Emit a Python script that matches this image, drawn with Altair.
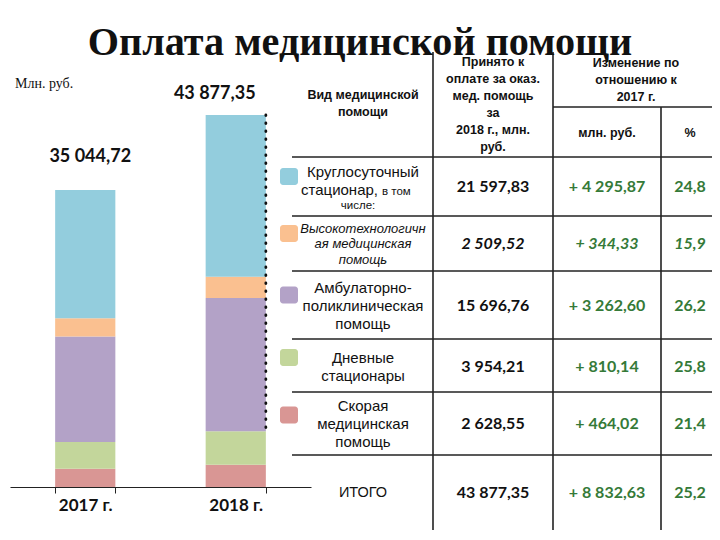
import altair as alt
import pandas as pd

# ---------------- data ----------------
title_text = "Оплата медицинской помощи"
unit_text = "Млн. руб."
years = ["2017 г.", "2018 г."]
segments = ["Скорая медицинская помощь", "Дневные стационары",
            "Амбулаторно-поликлиническая помощь",
            "Высокотехнологичная медицинская помощь",
            "Круглосуточный стационар (без ВМП)"]
seg_2017 = [2164.53, 3144.07, 12434.16, 2165.19, 15136.77]
seg_2018 = [2628.55, 3954.21, 15696.76, 2509.52, 19088.31]
totals = [35044.72, 43877.35]
total_labels = ["35 044,72", "43 877,35"]

header_kind = "Вид медицинской\nпомощи"
header_paid = "Принято к\nоплате за оказ.\nмед. помощь\nза\n2018 г., млн.\nруб."
header_change = "Изменение по\nотношению к\n2017 г."
sub_headers = ["млн. руб.", "%"]
row_labels = ["Круглосуточный\nстационар, в том\nчисле:",
              "Высокотехнологичн\nая медицинская\nпомощь",
              "Амбулаторно-\nполиклиническая\nпомощь",
              "Дневные\nстационары",
              "Скорая\nмедицинская\nпомощь",
              "ИТОГО"]
paid_2018 = ["21 597,83", "2 509,52", "15 696,76", "3 954,21", "2 628,55", "43 877,35"]
change_abs = ["+ 4 295,87", "+ 344,33", "+ 3 262,60", "+ 810,14", "+ 464,02", "+ 8 832,63"]
change_pct = ["24,8", "15,9", "26,2", "25,8", "21,4", "25,2"]

# ---------------- styles / layout ----------------
seg_colors = ["#D99694", "#C3D69B", "#B3A2C7", "#FAC090", "#93CDDD"]
swatch_colors = ["#93CDDD", "#FAC090", "#B3A2C7", "#C3D69B", "#D99694"]
GREEN = "#357A38"
INK = "#111111"
SERIF = "Liberation Serif"
SANS = "Liberation Sans"
W, VIEW_H, PAD_B = 704, 479, 43

# table layout (page pixels)
col_centers = [363, 493, 607, 690]
row_centers = [187, 244, 306, 367, 424, 493]
h_lines = [(553, 725, 107), (292, 725, 157), (292, 725, 216), (292, 725, 271),
           (292, 725, 339), (292, 725, 392), (292, 725, 455)]
v_lines = [(433, 52, 530), (553, 52, 530), (661, 107, 530)]
swatch_centers = [176.5, 233.5, 295, 357.5, 415]

tx = alt.Scale(domain=[8, 712], range=[0, W], nice=False, zero=False)
ty = alt.Scale(domain=[8, 487], range=[0, VIEW_H], nice=False, zero=False)
xs = alt.Scale(domain=years, range=[2, 303], paddingInner=0.6, paddingOuter=0.3)
ys = alt.Scale(domain=[0, 56500], range=[VIEW_H, 0], nice=False, zero=True)

# ---------------- bar chart ----------------
rows = []
for yi, vals in zip(years, [seg_2017, seg_2018]):
    for i, (s, v) in enumerate(zip(segments, vals)):
        rows.append({"year": yi, "segment": s, "value": v, "order": i})
bars_df = pd.DataFrame(rows)

bars = alt.Chart(bars_df).mark_bar().encode(
    x=alt.X("year:N", scale=xs, title=None,
            axis=alt.Axis(labelAngle=0, tickBand="extent", labelFont="Lato",
                          labelFontSize=17, labelFontWeight="bold", labelColor=INK,
                          domainColor="#222", tickColor="#222", tickSize=6,
                          labelPadding=4, grid=False, domainWidth=1.2)),
    y=alt.Y("value:Q", scale=ys, stack="zero", axis=None),
    color=alt.Color("segment:N", scale=alt.Scale(domain=segments, range=seg_colors), legend=None),
    order=alt.Order("order:Q"),
)

tot_df = pd.DataFrame({"year": years, "total": totals, "label": total_labels})
tot_font = dict(font="Lato", fontWeight="bold", fontSize=18, color=INK, baseline="alphabetic")
tot17 = alt.Chart(tot_df.iloc[[0]]).mark_text(dy=-28, dx=5, **tot_font).encode(
    x=alt.X("year:N", scale=xs, axis=None), y=alt.Y("total:Q", scale=ys, axis=None), text="label:N")
tot18 = alt.Chart(tot_df.iloc[[1]]).mark_text(dy=-16, dx=-21, **tot_font).encode(
    x=alt.X("year:N", scale=xs, axis=None), y=alt.Y("total:Q", scale=ys, axis=None), text="label:N")

brace_df = pd.DataFrame({"year": [years[1]], "top": [totals[1]],
                         "bottom": [seg_2018[0] + seg_2018[1]]})
brace = alt.Chart(brace_df).mark_rule(strokeDash=[0.5, 7.5], strokeWidth=2.8, strokeCap="round",
                                      color=INK).encode(
    x=alt.X("year:N", scale=xs, bandPosition=1, axis=None),
    y=alt.Y("top:Q", scale=ys, axis=None), y2="bottom:Q")


# ---------------- helpers for the table ----------------
def text_layer(df, **mark):
    return alt.Chart(df).mark_text(**mark).encode(
        x=alt.X("x:Q", scale=tx, axis=None),
        y=alt.Y("y:Q", scale=ty, axis=None),
        text="t:N")


def tdf(items):
    return pd.DataFrame(items, columns=["x", "y", "t"])


def first_line(center, text, lh):
    n = text.count("\n") + 1
    return center - (n - 1) / 2 * lh


title = text_layer(tdf([(360, 55, title_text)]), font=SERIF, fontWeight="bold",
                   fontSize=40.2, color=INK, baseline="alphabetic", align="center")
unit = text_layer(tdf([(15, 88, unit_text)]), font=SERIF, fontSize=14,
                  color=INK, baseline="alphabetic", align="left")

hl = pd.DataFrame(h_lines, columns=["x", "x2", "y"])
hrules = alt.Chart(hl).mark_rule(color="#222", strokeWidth=1.6).encode(
    x=alt.X("x:Q", scale=tx, axis=None), x2="x2:Q", y=alt.Y("y:Q", scale=ty, axis=None))
vl = pd.DataFrame(v_lines, columns=["x", "y", "y2"])
vrules = alt.Chart(vl).mark_rule(color="#222", strokeWidth=1.6).encode(
    x=alt.X("x:Q", scale=tx, axis=None), y=alt.Y("y:Q", scale=ty, axis=None), y2="y2:Q")

sw = pd.DataFrame({"x": [280] * 5, "x2": [298] * 5,
                   "y": [c - 8.5 for c in swatch_centers], "y2": [c + 8.5 for c in swatch_centers],
                   "c": swatch_colors})
swatches = alt.Chart(sw).mark_rect(cornerRadius=3).encode(
    x=alt.X("x:Q", scale=tx, axis=None), x2="x2:Q",
    y=alt.Y("y:Q", scale=ty, axis=None), y2="y2:Q",
    color=alt.Color("c:N", scale=None))

HLH = 17
hdr_font = dict(font=SANS, fontWeight="bold", fontSize=12.5, color=INK,
                align="center", baseline="middle", lineBreak="\n", lineHeight=HLH)
headers = text_layer(tdf([(363, first_line(103.5, header_kind, HLH), header_kind),
                          (493, first_line(104.5, header_paid, HLH), header_paid),
                          (636, first_line(80, header_change, HLH), header_change),
                          (607, 133, sub_headers[0]), (690, 133, sub_headers[1])]), **hdr_font)

LLH = 18
lab_font = dict(font=SANS, fontSize=15, color=INK, align="center",
                baseline="middle", lineBreak="\n", lineHeight=LLH)
labels = text_layer(tdf([(363, first_line(row_centers[i], row_labels[i], LLH), row_labels[i])
                         for i in (2, 3, 4)]), **lab_font)
itogo = text_layer(tdf([(363, row_centers[5], row_labels[5])]),
                   **{**lab_font, "fontSize": 14.5})

r1 = row_labels[0].split("\n")
r1_mid = r1[1].split(", ")
r1a = text_layer(tdf([(363, 177, r1[0])]), font=SANS, fontSize=15, color=INK,
                 align="center", baseline="alphabetic")
r1b = text_layer(tdf([(378, 195, r1_mid[0] + ",")]), font=SANS, fontSize=15,
                 color=INK, align="right", baseline="alphabetic")
r1c = text_layer(tdf([(382, 195, r1_mid[1])]), font=SANS, fontSize=11.5,
                 color=INK, align="left", baseline="alphabetic")
r1d = text_layer(tdf([(358, 209, r1[2])]), font=SANS, fontSize=11.5,
                 color=INK, align="center", baseline="alphabetic")

ILH = 15.5
r2 = text_layer(tdf([(363, first_line(row_centers[1], row_labels[1], ILH), row_labels[1])]),
                font=SANS, fontSize=13, fontStyle="italic", color=INK, align="center",
                baseline="middle", lineBreak="\n", lineHeight=ILH)

val_font = dict(font="Lato", fontWeight="bold", fontSize=16, align="center", baseline="middle")
normal_rows = [0, 2, 3, 4, 5]
vals_black = text_layer(tdf([(col_centers[1], row_centers[i], paid_2018[i]) for i in normal_rows]),
                        color=INK, **val_font)
vals_green = text_layer(tdf([(col_centers[2], row_centers[i], change_abs[i]) for i in normal_rows] +
                            [(col_centers[3], row_centers[i], change_pct[i]) for i in normal_rows]),
                        color=GREEN, **val_font)
vals_it_black = text_layer(tdf([(col_centers[1], row_centers[1], paid_2018[1])]),
                           color=INK, fontStyle="italic", **val_font)
vals_it_green = text_layer(tdf([(col_centers[2], row_centers[1], change_abs[1]),
                                (col_centers[3], row_centers[1], change_pct[1])]),
                           color=GREEN, fontStyle="italic", **val_font)

chart = alt.layer(
    bars, tot17, tot18, brace,
    hrules, vrules, swatches, title, unit, headers, labels, itogo,
    r1a, r1b, r1c, r1d, r2, vals_black, vals_green, vals_it_black, vals_it_green,
).resolve_scale(x="independent", y="independent", color="independent").properties(
    width=W, height=VIEW_H,
    autosize=alt.AutoSizeParams(type="none"),
    padding={"left": 0, "top": 0, "right": 0, "bottom": PAD_B},
    background="white",
).configure_view(stroke=None)

chart.save("out.html", embed_options={"renderer": "svg", "actions": False})
